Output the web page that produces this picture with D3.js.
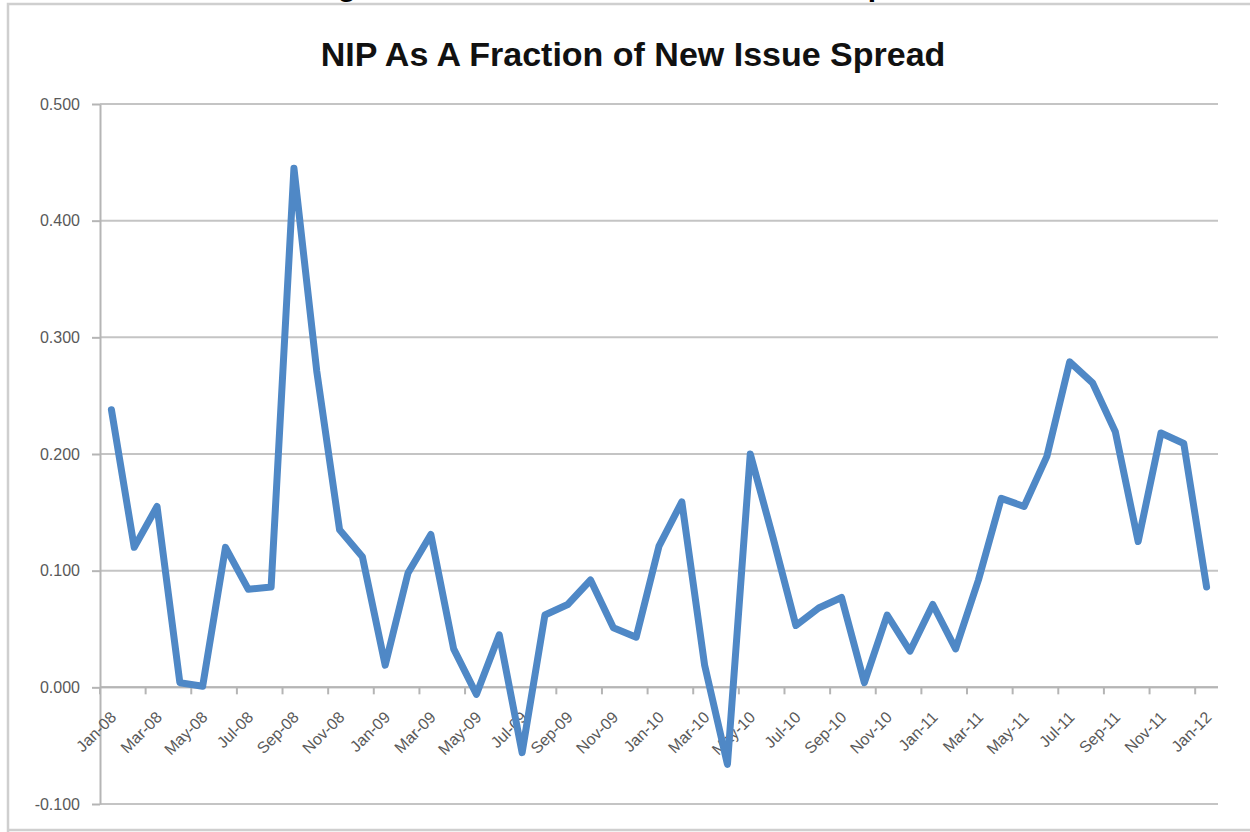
<!DOCTYPE html>
<html>
<head>
<meta charset="utf-8">
<script src="https://cdn.jsdelivr.net/npm/d3@7"></script>
<style>
  body { margin: 0; background: #fff; }
  svg { display: block; }
</style>
</head>
<body>
<div id="chart"></div>
<script>
const months = [
  "Jan-08", "Feb-08", "Mar-08", "Apr-08", "May-08", "Jun-08", "Jul-08", "Aug-08", "Sep-08", "Oct-08", "Nov-08", "Dec-08",
  "Jan-09", "Feb-09", "Mar-09", "Apr-09", "May-09", "Jun-09", "Jul-09", "Aug-09", "Sep-09", "Oct-09", "Nov-09", "Dec-09",
  "Jan-10", "Feb-10", "Mar-10", "Apr-10", "May-10", "Jun-10", "Jul-10", "Aug-10", "Sep-10", "Oct-10", "Nov-10", "Dec-10",
  "Jan-11", "Feb-11", "Mar-11", "Apr-11", "May-11", "Jun-11", "Jul-11", "Aug-11", "Sep-11", "Oct-11", "Nov-11", "Dec-11",
  "Jan-12"
];

const nipFraction = [
  0.238, 0.120, 0.155, 0.004, 0.001, 0.120, 0.084, 0.086, 0.445, 0.271, 0.135, 0.112,
  0.019, 0.098, 0.131, 0.033, -0.006, 0.045, -0.056, 0.062, 0.071, 0.092, 0.051, 0.043,
  0.121, 0.159, 0.019, -0.066, 0.200, 0.128, 0.053, 0.068, 0.077, 0.004, 0.062, 0.031,
  0.071, 0.033, 0.092, 0.162, 0.155, 0.198, 0.279, 0.261, 0.219, 0.125, 0.218, 0.209,
  0.086
];

const xTickLabels = [
  "Jan-08", "Mar-08", "May-08", "Jul-08", "Sep-08", "Nov-08",
  "Jan-09", "Mar-09", "May-09", "Jul-09", "Sep-09", "Nov-09",
  "Jan-10", "Mar-10", "May-10", "Jul-10", "Sep-10", "Nov-10",
  "Jan-11", "Mar-11", "May-11", "Jul-11", "Sep-11", "Nov-11",
  "Jan-12"
];

const yTicks = [-0.1, 0, 0.1, 0.2, 0.3, 0.4, 0.5];

const width = 1250;
const height = 832;
const margin = { top: 104, right: 32, bottom: 28, left: 100 };

const data = months.map((m, i) => ({ month: m, value: nipFraction[i] }));

const svg = d3.select("#chart")
  .append("svg")
  .attr("width", width)
  .attr("height", height);

// chart area frame
svg.append("path")
  .attr("d", `M8,${height} L8,4 L${width},4 M8,830 L${width},830`)
  .attr("fill", "none")
  .attr("stroke", "#cfcfcf")
  .attr("stroke-width", 2.5);

// bits of the heading above, cut off by the crop
svg.append("g")
  .selectAll("text")
  .data([{ t: "g", x: 347 }, { t: "p", x: 877 }])
  .join("text")
  .attr("x", d => d.x)
  .attr("y", -4)
  .attr("text-anchor", "middle")
  .style("font-family", "'Liberation Sans', Arial, sans-serif")
  .style("font-weight", "bold")
  .style("font-size", "30px")
  .text(d => d.t);

const xScale = d3.scaleBand()
  .domain(months)
  .range([margin.left, width - margin.right])
  .padding(0);

const yScale = d3.scaleLinear()
  .domain([-0.1, 0.5])
  .range([height - margin.bottom, margin.top]);

const bw = xScale.bandwidth();

// gridlines
svg.append("g")
  .selectAll("line")
  .data(yTicks)
  .join("line")
  .attr("x1", margin.left)
  .attr("x2", width - margin.right)
  .attr("y1", d => yScale(d))
  .attr("y2", d => yScale(d))
  .attr("stroke", "#c4c4c4")
  .attr("stroke-width", 2);

// y axis
const fmt = d3.format(".3f");
const yAxis = d3.axisLeft(yScale)
  .tickValues(yTicks)
  .tickFormat(d => fmt(d).replace("\u2212", "-"))
  .tickSizeInner(8)
  .tickSizeOuter(0)
  .tickPadding(12);

const yG = svg.append("g")
  .attr("transform", `translate(${margin.left},0)`)
  .call(yAxis);

yG.select(".domain").attr("stroke", "#b5b5b5").attr("stroke-width", 2);
yG.selectAll(".tick line").attr("stroke", "#b5b5b5").attr("stroke-width", 2);
yG.selectAll(".tick text")
  .style("font-family", "'Liberation Sans', Arial, sans-serif")
  .style("font-size", "16px")
  .attr("fill", "#595959");

// x axis on the zero line, ticks at band boundaries, labels at band centres
const y0 = yScale(0);
const xG = svg.append("g");

xG.append("line")
  .attr("x1", margin.left)
  .attr("x2", width - margin.right)
  .attr("y1", y0)
  .attr("y2", y0)
  .attr("stroke", "#b5b5b5")
  .attr("stroke-width", 2);

xG.selectAll(".xtick")
  .data(xTickLabels)
  .join("line")
  .attr("class", "xtick")
  .attr("x1", d => xScale(d))
  .attr("x2", d => xScale(d))
  .attr("y1", y0)
  .attr("y2", y0 + 7)
  .attr("stroke", "#b5b5b5")
  .attr("stroke-width", 2);

xG.selectAll(".xlabel")
  .data(xTickLabels)
  .join("text")
  .attr("class", "xlabel")
  .attr("transform", d => `translate(${xScale(d) + bw / 2 + 2},${y0 + 27}) rotate(-45)`)
  .attr("text-anchor", "end")
  .attr("dy", "0.35em")
  .style("font-family", "'Liberation Sans', Arial, sans-serif")
  .style("font-size", "16px")
  .attr("fill", "#595959")
  .text(d => d);

// series line
const line = d3.line()
  .x(d => xScale(d.month) + bw / 2)
  .y(d => yScale(d.value));

svg.append("path")
  .datum(data)
  .attr("fill", "none")
  .attr("stroke", "#4f88c6")
  .attr("stroke-width", 7)
  .attr("stroke-linejoin", "round")
  .attr("stroke-linecap", "round")
  .attr("d", line);

// title
svg.append("text")
  .attr("x", 633)
  .attr("y", 66)
  .attr("text-anchor", "middle")
  .style("font-family", "'Liberation Sans', Arial, sans-serif")
  .style("font-weight", "bold")
  .style("font-size", "34px")
  .attr("fill", "#111")
  .text("NIP As A Fraction of New Issue Spread");
</script>
</body>
</html>
